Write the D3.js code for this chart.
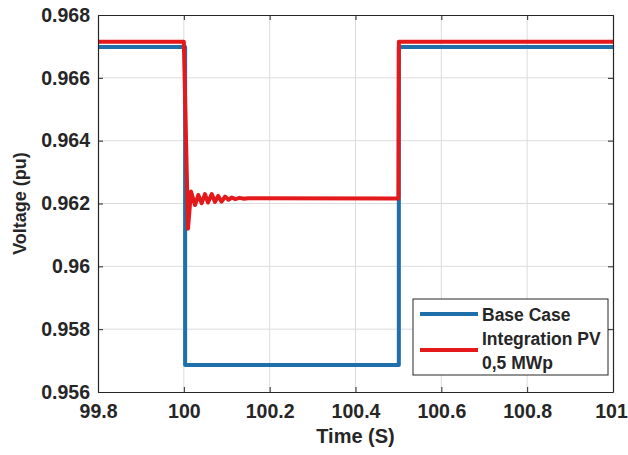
<!DOCTYPE html>
<html>
<head>
<meta charset="utf-8">
<script src="https://cdn.jsdelivr.net/npm/d3@7"></script>
<style>
  body { margin: 0; background: #fff; }
  text { font-family: "Liberation Sans", Arial, sans-serif; font-weight: bold; fill: #262626; }
</style>
</head>
<body>
<script>
// data
var xTicks = [99.8, 100, 100.2, 100.4, 100.6, 100.8, 101];
var yTicks = [0.956, 0.958, 0.96, 0.962, 0.964, 0.966, 0.968];
var seriesNames = ["Base Case", "Integration PV", "0,5 MWp"];

var timeBase = [99.8, 100.003, 100.003, 100.501, 100.501, 101];
var voltBase = [0.96698, 0.96698, 0.95686, 0.95686, 0.96698, 0.96698];

var timePV = [99.8, 100.0, 100.0097, 100.0167, 100.026, 100.0337, 100.0416, 100.0493, 100.0563,
              100.065, 100.0726, 100.080, 100.088, 100.096, 100.104, 100.112, 100.12, 100.13,
              100.14, 100.15, 100.5, 100.501, 101];
var voltPV = [0.96715, 0.96715, 0.9612, 0.96238, 0.96195, 0.96227, 0.96201, 0.9623, 0.96203,
              0.9623, 0.96205, 0.96224, 0.96206, 0.96222, 0.96212, 0.96219, 0.96214, 0.96218,
              0.96215, 0.96217, 0.96216, 0.96715, 0.96715];

var W = 628, H = 455;
var mLeft = 98, mTop = 15, mRight = 613, mBottom = 392;

var svg = d3.select("body").append("svg")
    .attr("width", W).attr("height", H);
svg.append("rect").attr("width", W).attr("height", H).attr("fill", "#fff");

var x = d3.scaleLinear().domain([99.8, 101]).range([mLeft, mRight]);
var y = d3.scaleLinear().domain([0.956, 0.968]).range([mBottom, mTop]);

// grid
var grid = svg.append("g");
grid.selectAll(".gx").data(xTicks.slice(1, -1)).enter().append("line")
    .attr("x1", function(d){ return x(d); }).attr("x2", function(d){ return x(d); })
    .attr("y1", mTop).attr("y2", mBottom)
    .attr("stroke", "#dcdcdc").attr("stroke-width", 1);
grid.selectAll(".gy").data(yTicks.slice(1, -1)).enter().append("line")
    .attr("y1", function(d){ return y(d); }).attr("y2", function(d){ return y(d); })
    .attr("x1", mLeft).attr("x2", mRight)
    .attr("stroke", "#dcdcdc").attr("stroke-width", 1);

// lines
var line = d3.line().x(function(d){ return x(d[0]); }).y(function(d){ return y(d[1]); });
var baseData = d3.zip(timeBase, voltBase);
var pvData = d3.zip(timePV, voltPV);

svg.append("path").datum(baseData).attr("d", line)
    .attr("fill", "none").attr("stroke", "#1f6fab").attr("stroke-width", 4)
    .attr("stroke-linejoin", "round");
svg.append("path").datum(pvData).attr("d", line)
    .attr("fill", "none").attr("stroke", "#e3191c").attr("stroke-width", 4)
    .attr("stroke-linejoin", "round");

// axes (ticks inside, matlab style box)
var fmtX = function(d){ return d3.format("")(+d.toFixed(1)); };
var fmtY = function(d){ return d3.format("")(+d.toFixed(3)); };

var xAxis = svg.append("g").attr("transform", "translate(0," + mBottom + ")")
    .call(d3.axisBottom(x).tickValues(xTicks).tickFormat(fmtX).tickSizeInner(-5).tickSizeOuter(0).tickPadding(12));
var xTop = svg.append("g").attr("transform", "translate(0," + mTop + ")")
    .call(d3.axisTop(x).tickValues(xTicks).tickFormat("").tickSizeInner(-5).tickSizeOuter(0));
var yAxis = svg.append("g").attr("transform", "translate(" + mLeft + ",0)")
    .call(d3.axisLeft(y).tickValues(yTicks).tickFormat(fmtY).tickSizeInner(-5).tickSizeOuter(0).tickPadding(8));
var yRight = svg.append("g").attr("transform", "translate(" + mRight + ",0)")
    .call(d3.axisRight(y).tickValues(yTicks).tickFormat("").tickSizeInner(-5).tickSizeOuter(0));

[xAxis, xTop, yAxis, yRight].forEach(function(g){
  g.selectAll("path").attr("stroke", "#262626").attr("stroke-width", 1.2);
  g.selectAll("line").attr("stroke", "#262626");
  g.selectAll("text").attr("font-family", null).style("font-size", "19.5px").attr("fill", "#262626");
});
// last x label sits at the right edge, keep it inside the page
xAxis.selectAll(".tick text").filter(function(d){ return d === 101; }).attr("dx", "-2");

// axis labels
svg.append("text").attr("x", (mLeft + mRight) / 2).attr("y", 443)
    .attr("text-anchor", "middle").style("font-size", "20px").text("Time (S)");
svg.append("text").attr("transform", "translate(26," + ((mTop + mBottom) / 2) + ") rotate(-90)")
    .attr("text-anchor", "middle").style("font-size", "18px").text("Voltage (pu)");

// legend
var lg = svg.append("g");
lg.append("rect").attr("x", 413).attr("y", 299).attr("width", 195).attr("height", 76)
    .attr("fill", "#fff").attr("stroke", "#262626").attr("stroke-width", 1);
lg.append("line").attr("x1", 420).attr("x2", 478).attr("y1", 314).attr("y2", 314)
    .attr("stroke", "#1f6fab").attr("stroke-width", 4);
lg.append("line").attr("x1", 420).attr("x2", 478).attr("y1", 350).attr("y2", 350)
    .attr("stroke", "#e3191c").attr("stroke-width", 4);
lg.append("text").attr("x", 482).attr("y", 321).style("font-size", "17.5px").text(seriesNames[0]);
lg.append("text").attr("x", 482).attr("y", 345).style("font-size", "17.5px").text(seriesNames[1]);
lg.append("text").attr("x", 482).attr("y", 369).style("font-size", "17.5px").text(seriesNames[2]);
</script>
</body>
</html>
